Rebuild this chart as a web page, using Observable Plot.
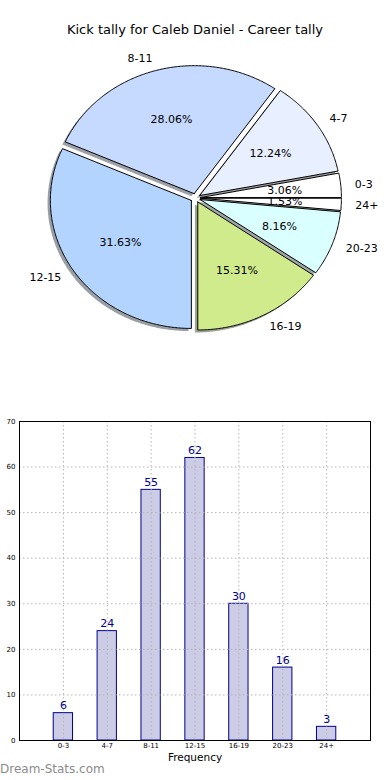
<!DOCTYPE html>
<html>
<head>
<meta charset="utf-8">
<script src="https://cdn.jsdelivr.net/npm/d3@7"></script>
<script src="https://cdn.jsdelivr.net/npm/@observablehq/plot@0.6"></script>
<style>
  html, body { margin: 0; padding: 0; background: #fff; }
  body { width: 390px; height: 780px; position: relative; overflow: hidden; font-family: "DejaVu Sans", sans-serif; }
  #title { position: absolute; top: 22px; left: 0; width: 390px; text-align: center; font-size: 13px; color: #000; }
  #pie { position: absolute; top: 0; left: 0; }
  #bars { position: absolute; top: 405px; left: 0; }
  #wm { position: absolute; left: 0; top: 762px; font-size: 12px; color: #8c8c8c; font-weight: normal; }
</style>
</head>
<body>
<div id="title">Kick tally for Caleb Daniel - Career tally</div>
<div id="pie"></div>
<div id="bars"></div>
<div id="wm">Dream-Stats.com</div>
<script>
const categories = ["0-3", "4-7", "8-11", "12-15", "16-19", "20-23", "24+"];
const counts = [6, 24, 55, 62, 30, 16, 3];
const sliceColors = ["#ffffff", "#e8efff", "#c6d9ff", "#b3d4ff", "#d0eb8c", "#d9ffff", "#ffffff"];
const yTicks = [0, 10, 20, 30, 40, 50, 60, 70];
const xLabel = "Frequency";

// ---------- Pie ----------
const total = d3.sum(counts);
const explode = 0.035;
const shadowOff = 0.02;
let cum = 0;
const slices = categories.map((c, i) => {
  const a0 = cum / total * 2 * Math.PI;
  cum += counts[i];
  const a1 = cum / total * 2 * Math.PI;
  const mid = (a0 + a1) / 2;
  return {cat: c, i, value: counts[i], a0, a1, mid,
          ox: explode * Math.cos(mid), oy: explode * Math.sin(mid),
          pct: (counts[i] / total * 100).toFixed(2) + "%",
          color: sliceColors[i]};
});
function slicePoints(s, dx, dy, key) {
  const pts = [{x: s.ox + dx, y: s.oy + dy, k: key}];
  const n = Math.max(4, Math.ceil((s.a1 - s.a0) / 0.01));
  for (let j = 0; j <= n; j++) {
    const a = s.a0 + (s.a1 - s.a0) * j / n;
    pts.push({x: s.ox + dx + Math.cos(a), y: s.oy + dy + Math.sin(a), k: key});
  }
  pts.push({x: s.ox + dx, y: s.oy + dy, k: key});
  return pts;
}
const wedgePts = slices.flatMap(s => slicePoints(s, 0, 0, s.cat).map(p => ({...p, color: s.color})));
const shadowPts = slices.flatMap(s => {
  const c = d3.rgb(s.color);
  const sc = `rgba(${Math.round(c.r*0.3)},${Math.round(c.g*0.3)},${Math.round(c.b*0.3)},0.5)`;
  return slicePoints(s, -shadowOff, -shadowOff, "sh" + s.cat).map(p => ({...p, color: sc}));
});
const labels = slices.map(s => ({
  text: s.cat,
  x: s.ox + 1.1 * Math.cos(s.mid), y: s.oy + 1.1 * Math.sin(s.mid),
  right: Math.cos(s.mid) > 0
}));
const pcts = slices.map(s => ({text: s.pct, x: s.ox + 0.6 * Math.cos(s.mid), y: s.oy + 0.6 * Math.sin(s.mid)}));

const cx = 195, cy = 197.5, rx = 141, ry = 128;
const pie = Plot.plot({
  width: 390, height: 360,
  margin: 0,
  x: {domain: [-1, 1], range: [cx - rx, cx + rx], axis: null},
  y: {domain: [-1, 1], range: [cy + ry, cy - ry], axis: null},
  color: {type: "identity"},
  style: {fontFamily: "DejaVu Sans", background: "transparent", overflow: "visible"},
  marks: [
    Plot.line(shadowPts, {x: "x", y: "y", z: "k", fill: "color", stroke: "none", curve: "linear"}),
    Plot.line(wedgePts, {x: "x", y: "y", z: "k", fill: "color", stroke: "#000", strokeWidth: 1, strokeLinejoin: "miter", curve: "linear"}),
    Plot.text(labels.filter(d => d.right), {x: "x", y: "y", text: "text", textAnchor: "start", fontSize: 11, fill: "#000"}),
    Plot.text(labels.filter(d => !d.right), {x: "x", y: "y", text: "text", textAnchor: "end", fontSize: 11, fill: "#000"}),
    Plot.text(pcts, {x: "x", y: "y", text: "text", fontSize: 11, fill: "#000"})
  ]
});
document.getElementById("pie").appendChild(pie);

// ---------- Bars ----------
const barData = categories.map((c, i) => ({cat: c, value: counts[i]}));
const bars = Plot.plot({
  width: 390, height: 375,
  marginTop: 16, marginBottom: 40, marginLeft: 19, marginRight: 20,
  x: {domain: categories, paddingInner: 0.56, paddingOuter: 0.78, align: 0.5, round: false, axis: null},
  y: {domain: [0, 70], axis: null},
  style: {fontFamily: "DejaVu Sans", fontSize: "7px", background: "transparent", overflow: "visible"},
  marks: [
    Plot.barY(barData, {x: "cat", y: "value", fill: "#ccccE6", stroke: "#00008b", strokeWidth: 1, inset: 0}),
    Plot.ruleY(yTicks, {stroke: "#b4b4b4", strokeDasharray: "1.5,2.5", strokeWidth: 1}),
    Plot.tickX(categories, {x: d => d, stroke: "#b4b4b4", strokeDasharray: "1.5,2.5", strokeWidth: 1}),
    Plot.frame({stroke: "#000", strokeWidth: 1}),
    Plot.axisY({ticks: yTicks, tickSize: 0, tickPadding: 4, fontSize: 7, fill: "#000", label: null}),
    Plot.axisX({tickSize: 0, tickPadding: 3, fontSize: 7, fill: "#000", label: null}),
    Plot.text(barData, {x: "cat", y: "value", text: d => String(d.value), dy: -4, lineAnchor: "bottom", fontSize: 11, fill: "#00008b"}),
    Plot.text([xLabel], {frameAnchor: "bottom", text: d => d, dy: 20, fontSize: 10.5, fill: "#000"})
  ]
});
document.getElementById("bars").appendChild(bars);
</script>
</body>
</html>
